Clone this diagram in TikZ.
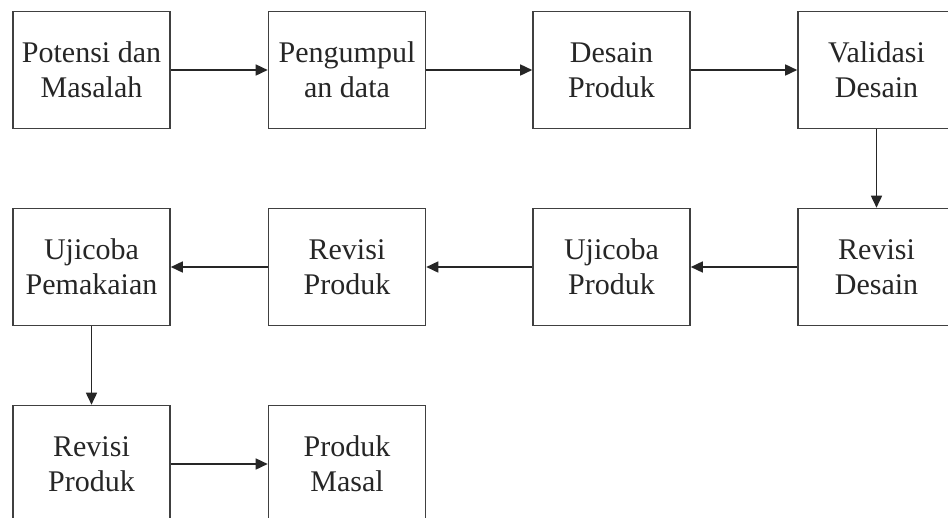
\documentclass[tikz,border=0pt]{standalone}
\usepackage{fontspec}
\setmainfont{Liberation Serif}
\usetikzlibrary{arrows.meta}
\tikzset{
  stage/.style={draw=black!75, line width=1.6pt, minimum width=157pt, minimum height=117pt,
    inner sep=0pt, align=center, font=\fontsize{30pt}{35pt}\selectfont, text=black!85},
  flow/.style={draw=black!85, line width=1.6pt, -{Triangle[length=12pt,width=11pt]}}
}
\begin{document}
\begin{tikzpicture}[x=1pt,y=-1pt]
  \useasboundingbox (0,0) rectangle (948,517);
  \clip (0,0) rectangle (948,517);
  \fill[white] (0,0) rectangle (948,517);
  % first row, left to right
  \node[stage] (potensi)  at (91.5,70)  {Potensi dan\\Masalah};
  \node[stage] (data)     at (347,70)   {Pengumpul\\an data};
  \node[stage] (desain)   at (611.5,70) {Desain\\Produk};
  \node[stage] (validasi) at (876.5,70) {Validasi\\Desain};
  % second row, right to left
  \node[stage] (revdesain) at (876.5,267) {Revisi\\Desain};
  \node[stage] (ujiproduk) at (611.5,267) {Ujicoba\\Produk};
  \node[stage] (revproduk) at (347,267)   {Revisi\\Produk};
  \node[stage] (ujipakai)  at (91.5,267)  {Ujicoba\\Pemakaian};
  % third row
  \node[stage] (revakhir) at (91.5,464) {Revisi\\Produk};
  \node[stage] (masal)    at (347,464)  {Produk\\Masal};
  % connectors
  \draw[flow] (potensi) -- (data);
  \draw[flow] (data) -- (desain);
  \draw[flow] (desain) -- (validasi);
  \draw[flow] (validasi) -- (revdesain);
  \draw[flow] (revdesain) -- (ujiproduk);
  \draw[flow] (ujiproduk) -- (revproduk);
  \draw[flow] (revproduk) -- (ujipakai);
  \draw[flow] (ujipakai) -- (revakhir);
  \draw[flow] (revakhir) -- (masal);
\end{tikzpicture}
\end{document}
